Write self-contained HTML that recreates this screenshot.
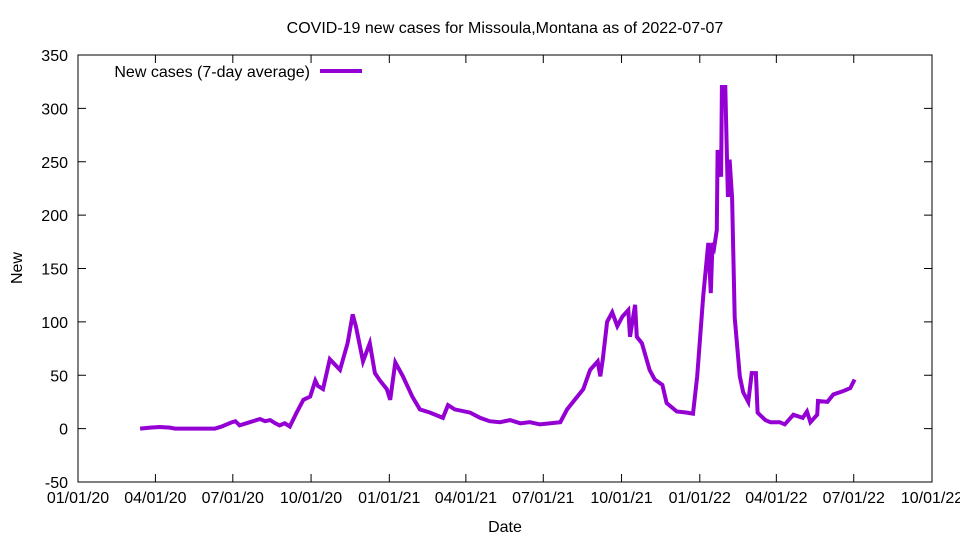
<!DOCTYPE html>
<html><head><meta charset="utf-8"><style>
body{margin:0;background:#fff}
svg{display:block;font-family:"Liberation Sans",sans-serif}
</style></head><body>
<svg id="chart" width="960" height="540"></svg>
<script>
const days=[73,85,96,108,114,161,169,181,185,190,202,214,220,226,232,237,243,249,257,265,273,279,282,288,296,308,317,323,327,335,343,349,355,363,367,373,382,393,402,414,429,435,443,461,473,484,496,508,520,531,543,567,575,594,602,611,614,617,622,628,634,640,647,649,655,657,663,672,678,687,692,704,716,723,728,735,741,744,746,748,751,752,756,757,761,763,764,766,769,772,778,782,788,792,797,799,808,814,825,831,841,852,857,861,869,870,881,888,899,908,913];
const values=[0,1,1.5,1,0,0,2,6,7,3,6,9,7,8,5,3,5,2,15,27,30,45,40,37,65,55,80,107,95,63,80,52,45,37,27,62,49,30,18,15,10,22,18,15,10,7,6,8,5,6,4,6,18,37,55,63,49,65,100,109,96,105,111,86,116,86,80,55,46,41,24,16,15,14,49,124,174,127,174,170,186,261,236,320,320,252,217,252,216,104,49,34,25,52,52,15,8,6,6,4,13,10,16,6,13,26,25,32,35,38,46];
const yTicks=[-50,0,50,100,150,200,250,300,350];
const xTickLabels=["01/01/20","04/01/20","07/01/20","10/01/20","01/01/21","04/01/21","07/01/21","10/01/21","01/01/22","04/01/22","07/01/22","10/01/22"];
const xTickDays=[0,91,182,274,366,456,547,639,731,821,912,1004];
const L=78,R=932,T=55,B=482;
const xs=d=>L+(R-L)*d/1004;
const ys=v=>B-(B-T)*(v+50)/400;
const svg=document.getElementById('chart');
const NS='http://www.w3.org/2000/svg';
function mk(tag,attrs,text){const e=document.createElementNS(NS,tag);for(const k in attrs)e.setAttribute(k,attrs[k]);if(text!==undefined)e.textContent=text;svg.appendChild(e);return e;}
let e=mk('rect',{x:L,y:T,width:R-L,height:B-T,fill:'none',stroke:'#000','stroke-width':1});


yTicks.forEach(v=>{const y=ys(v);
 let t=mk('line',{x1:L,x2:L+8,y1:y,y2:y,stroke:'#000'});
 
 
 t=mk('line',{x1:R-8,x2:R,y1:y,y2:y,stroke:'#000'});
 
 
 const lb=mk('text',{x:L-10,y:y+6,'text-anchor':'end','font-size':16},String(v));
 
 
});
xTickDays.forEach((d,i)=>{const x=xs(d);
 let t=mk('line',{x1:x,x2:x,y1:B,y2:B-8,stroke:'#000'});
 
 
 t=mk('line',{x1:x,x2:x,y1:T,y2:T+8,stroke:'#000'});
 
 
 const lb=mk('text',{x:x,y:B+21,'text-anchor':'middle','font-size':16},xTickLabels[i]);
 
 
});
const pts=days.map((d,i)=>xs(d).toFixed(1)+','+ys(values[i]).toFixed(1)).join(' ');
const line=mk('polyline',{points:pts,fill:'none',stroke:'#9400d3','stroke-width':4,'stroke-linejoin':'miter'});


let tt=mk('text',{x:505,y:33,'text-anchor':'middle','font-size':16},'COVID-19 new cases for Missoula,Montana as of 2022-07-07');


tt=mk('text',{x:505,y:532,'text-anchor':'middle','font-size':16},'Date');


tt=mk('text',{x:22,y:268,'text-anchor':'middle','font-size':16,transform:'rotate(-90 22 268)'},'New');


tt=mk('text',{x:310,y:77,'text-anchor':'end','font-size':16},'New cases (7-day average)');


tt=mk('line',{x1:320,x2:362,y1:71,y2:71,stroke:'#9400d3','stroke-width':4});


</script>
</body></html>
